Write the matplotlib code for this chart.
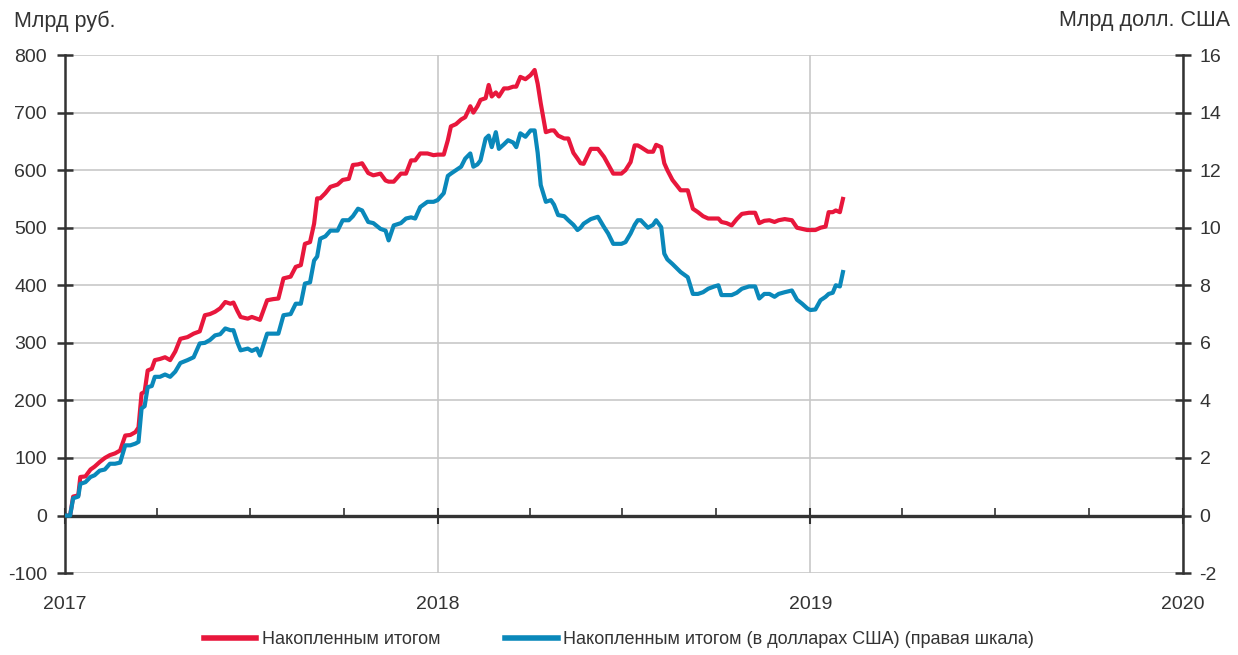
import matplotlib
matplotlib.use("Agg")
import matplotlib.pyplot as plt
import matplotlib.dates as mdates
import pandas as pd

plt.rcParams['font.family'] = ['Liberation Sans', 'DejaVu Sans']
plt.rcParams['axes.unicode_minus'] = False

# даты наблюдений
dates = [
    "2017-01-01", "2017-01-06", "2017-01-09", "2017-01-14", "2017-01-16", "2017-01-21",
    "2017-01-26", "2017-01-30", "2017-02-04", "2017-02-09", "2017-02-14", "2017-02-19",
    "2017-02-24", "2017-03-01", "2017-03-06", "2017-03-11", "2017-03-14", "2017-03-17",
    "2017-03-20", "2017-03-23", "2017-03-27", "2017-03-30", "2017-04-04", "2017-04-09",
    "2017-04-14", "2017-04-19", "2017-04-24", "2017-05-01", "2017-05-07", "2017-05-13",
    "2017-05-18", "2017-05-23", "2017-05-28", "2017-06-02", "2017-06-07", "2017-06-12",
    "2017-06-15", "2017-06-19", "2017-06-22", "2017-06-29", "2017-07-03", "2017-07-08",
    "2017-07-11", "2017-07-18", "2017-07-24", "2017-07-29", "2017-08-03", "2017-08-10",
    "2017-08-15", "2017-08-20", "2017-08-24", "2017-08-29", "2017-09-02", "2017-09-05",
    "2017-09-08", "2017-09-13", "2017-09-18", "2017-09-25", "2017-09-30", "2017-10-06",
    "2017-10-10", "2017-10-15", "2017-10-19", "2017-10-25", "2017-10-30", "2017-11-06",
    "2017-11-11", "2017-11-14", "2017-11-19", "2017-11-26", "2017-12-01", "2017-12-06",
    "2017-12-10", "2017-12-15", "2017-12-22", "2017-12-28", "2018-01-01", "2018-01-07",
    "2018-01-11", "2018-01-14", "2018-01-19", "2018-01-24", "2018-01-28", "2018-02-02",
    "2018-02-05", "2018-02-09", "2018-02-12", "2018-02-17", "2018-02-20", "2018-02-23",
    "2018-02-27", "2018-03-02", "2018-03-07", "2018-03-11", "2018-03-16", "2018-03-19",
    "2018-03-23", "2018-03-28", "2018-04-02", "2018-04-06", "2018-04-09", "2018-04-12",
    "2018-04-17", "2018-04-22", "2018-04-25", "2018-04-29", "2018-05-05", "2018-05-09",
    "2018-05-14", "2018-05-18", "2018-05-21", "2018-05-24", "2018-05-31", "2018-06-07",
    "2018-06-10", "2018-06-13", "2018-06-17", "2018-06-22", "2018-06-30", "2018-07-04",
    "2018-07-09", "2018-07-13", "2018-07-16", "2018-07-19", "2018-07-26", "2018-07-31",
    "2018-08-03", "2018-08-08", "2018-08-11", "2018-08-14", "2018-08-19", "2018-08-27",
    "2018-09-03", "2018-09-08", "2018-09-13", "2018-09-18", "2018-09-23", "2018-09-29",
    "2018-10-03", "2018-10-06", "2018-10-11", "2018-10-16", "2018-10-21", "2018-10-26",
    "2018-11-02", "2018-11-08", "2018-11-12", "2018-11-17", "2018-11-22", "2018-11-27",
    "2018-12-01", "2018-12-07", "2018-12-14", "2018-12-19", "2018-12-24", "2018-12-29",
    "2019-01-01", "2019-01-06", "2019-01-11", "2019-01-16", "2019-01-19", "2019-01-23",
    "2019-01-26", "2019-01-30", "2019-02-02",
]

# накопленным итогом, млрд руб.
rub = [
    0, 0, 33, 35, 67, 68, 80, 85, 93, 100, 105, 108,
    113, 139, 140, 145, 153, 212, 215, 252, 255, 270, 272, 275,
    270, 285, 307, 310, 316, 320, 348, 350, 354, 360, 371, 368,
    370, 355, 345, 342, 345, 342, 340, 374, 376, 377, 412, 415,
    432, 435, 472, 475, 507, 551, 551, 560, 571, 575, 583, 585,
    609, 610, 612, 595, 591, 594, 582, 580, 580, 594, 594, 617,
    617, 629, 629, 626, 627, 627, 652, 676, 680, 688, 692, 711,
    700, 711, 722, 725, 748, 728, 735, 728, 742, 742, 745, 745,
    762, 758, 765, 774, 750, 716, 666, 669, 669, 660, 655, 655,
    630, 620, 612, 611, 637, 637, 630, 623, 610, 594, 594, 600,
    614, 643, 643, 640, 632, 632, 644, 640, 612, 600, 583, 565,
    565, 533, 527, 520, 516, 516, 516, 510, 508, 504, 515, 524,
    526, 526, 508, 512, 513, 510, 513, 515, 513, 500, 498, 496,
    496, 496, 500, 502, 527, 527, 530, 527, 550,
]

# накопленным итогом, млрд долл. США
usd = [
    0.0, 0.0, 0.60, 0.66, 1.10, 1.16, 1.34, 1.40, 1.56, 1.60, 1.80, 1.80,
    1.84, 2.44, 2.44, 2.50, 2.56, 3.72, 3.80, 4.46, 4.50, 4.82, 4.82, 4.90,
    4.82, 5.00, 5.30, 5.40, 5.50, 5.98, 6.00, 6.10, 6.26, 6.30, 6.50, 6.44,
    6.44, 6.00, 5.74, 5.80, 5.72, 5.80, 5.56, 6.32, 6.32, 6.32, 6.96, 7.00,
    7.36, 7.36, 8.06, 8.10, 8.86, 9.00, 9.62, 9.70, 9.90, 9.90, 10.26, 10.26,
    10.40, 10.66, 10.60, 10.20, 10.16, 9.96, 9.90, 9.56, 10.08, 10.16, 10.32, 10.36,
    10.32, 10.72, 10.90, 10.90, 10.96, 11.20, 11.80, 11.88, 12.00, 12.12, 12.40, 12.58,
    12.12, 12.20, 12.34, 13.10, 13.20, 12.80, 13.32, 12.74, 12.90, 13.04, 12.96, 12.80,
    13.28, 13.16, 13.38, 13.38, 12.60, 11.48, 10.90, 10.96, 10.80, 10.44, 10.40, 10.26,
    10.10, 9.92, 10.00, 10.14, 10.30, 10.38, 10.20, 10.02, 9.80, 9.44, 9.44, 9.50,
    9.80, 10.10, 10.26, 10.26, 10.00, 10.10, 10.26, 10.02, 9.10, 8.90, 8.74, 8.46,
    8.28, 7.70, 7.70, 7.76, 7.88, 7.96, 8.00, 7.66, 7.66, 7.66, 7.74, 7.88,
    7.96, 7.96, 7.54, 7.70, 7.70, 7.60, 7.70, 7.76, 7.82, 7.50, 7.36, 7.20,
    7.14, 7.16, 7.48, 7.60, 7.70, 7.74, 8.00, 7.96, 8.46,
]

red = '#E8173C'
blue = '#0A88BA'
grid_c = '#C8C8C8'
dark = '#333333'

x = pd.to_datetime(dates)

fig = plt.figure(figsize=(12.38, 6.55), dpi=100)
ax = fig.add_axes([0.0525, 0.125, 0.903, 0.791])
ax2 = ax.twinx()

l1, = ax.plot(x, rub, color=red, lw=3, solid_joinstyle='round')
l2, = ax2.plot(x, usd, color=blue, lw=3, solid_joinstyle='round')
# синяя линия ниже красной
ax.set_zorder(ax2.get_zorder() - 1)
ax2.patch.set_visible(False)

ax.set_xlim(pd.Timestamp("2017-01-01"), pd.Timestamp("2020-01-01"))
ax.set_ylim(-100, 800)
ax2.set_ylim(-2, 16)
ax.set_yticks(range(-100, 801, 100))
ax2.set_yticks(range(-2, 17, 2))

ax.xaxis.set_major_locator(mdates.YearLocator())
ax.xaxis.set_major_formatter(mdates.DateFormatter('%Y'))
ax.xaxis.set_minor_locator(mdates.MonthLocator(bymonth=[4, 7, 10]))

ax.grid(True, axis='both', which='major', color=grid_c, lw=1.2)
ax.set_axisbelow(True)

# ось X на нуле
ax.spines['bottom'].set_position(('data', 0))
ax.spines['bottom'].set_color(dark)
ax.spines['bottom'].set_linewidth(2.4)
ax.spines['top'].set_visible(False)
ax2.spines['top'].set_visible(False)
ax2.spines['bottom'].set_visible(False)
ax.spines['left'].set_color(dark)
ax.spines['left'].set_linewidth(1.8)
ax.spines['right'].set_visible(False)
ax2.spines['left'].set_visible(False)
ax2.spines['right'].set_color(dark)
ax2.spines['right'].set_linewidth(1.8)

ax.tick_params(axis='x', which='major', direction='inout', length=12, width=1.5,
               color=dark, pad=52, labelsize=14, labelcolor=dark)
ax.tick_params(axis='x', which='minor', direction='in', length=6, width=1.2, color=dark)
ax.tick_params(axis='y', direction='inout', length=12, width=1.8, color=dark,
               labelsize=14, labelcolor=dark, pad=7)
ax2.tick_params(axis='y', direction='inout', length=12, width=1.8, color=dark,
                labelsize=14, labelcolor=dark, pad=6)

fig.text(0.011, 0.968, 'Млрд руб.', fontsize=15.5, color=dark, va='center', ha='left')
fig.text(0.994, 0.968, 'Млрд долл. США', fontsize=15.5, color=dark, va='center', ha='right')

fig.legend([l1, l2], ['Накопленным итогом',
                      'Накопленным итогом (в долларах США) (правая шкала)'],
           loc='center', bbox_to_anchor=(0.5, 0.023), ncol=2, frameon=False,
           fontsize=13, handlelength=2.9, handletextpad=0.3, columnspacing=3.6,
           labelcolor=dark)
for line in fig.legends[0].get_lines():
    line.set_linewidth(4)

fig.savefig('out.png', dpi=100)
